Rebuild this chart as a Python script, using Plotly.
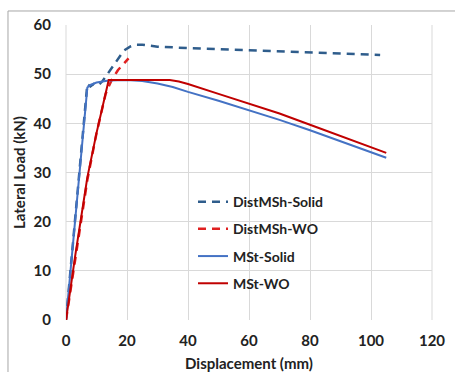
import plotly.graph_objects as go

# DistMSh-Solid
dms_x = [0, 3, 6.5, 7, 8, 9, 10, 11, 12, 13, 15, 17, 19, 21, 23, 25, 30, 40, 50, 60, 70, 80, 90, 103]
dms_y = [0, 21, 46, 48, 47.5, 48, 47.6, 48, 48.6, 49.5, 51.3, 53.2, 54.8, 55.6, 56, 56, 55.6, 55.3, 55.1, 54.9, 54.7, 54.5, 54.2, 53.9]
# DistMSh-WO
dmw_x = [0, 3, 7, 10, 13, 14, 15, 17, 19, 20.5]
dmw_y = [0, 12.5, 28.5, 38, 46, 47.5, 48.8, 50.8, 52.2, 53.2]
# MSt-Solid
mss_x = [0, 4.3, 7, 8, 10, 14, 20, 25, 30, 35, 40, 50, 60, 70, 80, 90, 105]
mss_y = [0, 30, 47.3, 47.8, 48.3, 48.7, 48.8, 48.6, 48.1, 47.4, 46.4, 44.6, 42.7, 40.7, 38.6, 36.4, 33]
# MSt-WO
msw_x = [0, 3, 7, 10, 14, 20, 30, 34, 37, 40, 50, 60, 70, 80, 90, 105]
msw_y = [0, 13, 29, 38, 48.8, 48.8, 48.8, 48.8, 48.5, 48, 46, 44, 42, 39.7, 37.4, 34]

fig = go.Figure()
fig.add_trace(go.Scatter(x=dms_x, y=dms_y, mode="lines", name="DistMSh-Solid", legendgroup="a",
                         line=dict(color="#2F5D8C", width=2.5, dash="8px,6px")))
fig.add_trace(go.Scatter(x=dmw_x, y=dmw_y, mode="lines", name="DistMSh-WO", legendgroup="b",
                         line=dict(color="#E02020", width=2.5, dash="8px,6px")))
fig.add_trace(go.Scatter(x=mss_x, y=mss_y, mode="lines", name="MSt-Solid", legendgroup="c",
                         line=dict(color="#4472C4", width=2)))
fig.add_trace(go.Scatter(x=msw_x, y=msw_y, mode="lines", name="MSt-WO", legendgroup="d",
                         line=dict(color="#C00000", width=2)))

font = "Lato, 'Open Sans', sans-serif"
fig.update_layout(
    width=455, height=372,
    margin=dict(l=66, r=23, t=25, b=52),
    paper_bgcolor="white", plot_bgcolor="white",
    font=dict(family=font, color="#222222", size=14),
    showlegend=True,
    legend=dict(x=0.347, y=0.454, xanchor="left", yanchor="top",
                bgcolor="rgba(0,0,0,0)", font=dict(size=14, family=font, color="#222222", weight="bold"),
                tracegroupgap=6, itemwidth=30),
    xaxis=dict(range=[0, 120], dtick=20, showgrid=True, gridcolor="#D9D9D9", gridwidth=1,
               zeroline=False, showline=False, ticks="", ticklabelstandoff=10, automargin=False,
               tickfont=dict(size=15, family=font, weight="bold"),
               title=dict(text="Displacement (mm)", font=dict(size=15, family=font, weight="bold"), standoff=12)),
    yaxis=dict(range=[0, 60], dtick=10, showgrid=True, gridcolor="#D9D9D9", gridwidth=1,
               zeroline=False, showline=False, ticks="", ticklabelstandoff=14, automargin=False,
               tickfont=dict(size=15, family=font, weight="bold"),
               title=dict(text="Lateral Load (kN)", font=dict(size=15, family=font, weight="bold"), standoff=4)),
    shapes=[
        dict(type="line", xref="paper", yref="paper", x0=1, x1=1, y0=0, y1=1,
             line=dict(color="#D9D9D9", width=1), layer="below"),
        dict(type="line", xref="paper", yref="paper", x0=0, x1=0, y0=0, y1=1,
             line=dict(color="#D9D9D9", width=1), layer="below"),
        dict(type="rect", xref="paper", yref="paper", x0=-0.1585, x1=1.2, y0=-0.3, y1=1.0475,
             line=dict(color="#A6A6A6", width=1), fillcolor="rgba(0,0,0,0)"),
    ],
)
fig.write_html("out.html")
